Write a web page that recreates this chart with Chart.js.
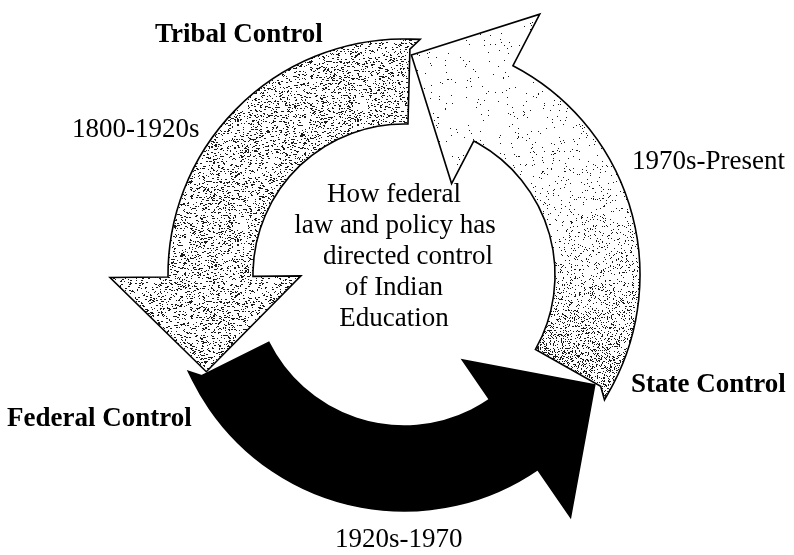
<!DOCTYPE html>
<html>
<head>
<meta charset="utf-8">
<script src="https://cdn.jsdelivr.net/npm/chart.js@4.4.1/dist/chart.umd.min.js"></script>
<style>
  html, body { margin: 0; padding: 0; background: #fff; }
  #wrap { width: 794px; height: 555px; position: relative; }
</style>
</head>
<body>
<div id="wrap"><canvas id="myChart"></canvas></div>
<script>
// arrows, clockwise from the top: State -> Tribal, Federal -> State, Tribal -> Federal
const periods = ["1970s-Present", "1920s-1970", "1800-1920s"];
const spanDegrees = [118, 124, 118];
const controls = ["State Control", "Federal Control", "Tribal Control"];
const centerLines = ["How federal", "law and policy has", "directed control", "of Indian", "Education"];

const headSpan = (26 * Math.PI) / 180;
const headLength = 95;
const flareIn = 48;
const flareOut = 58;
const barb = 10;

// deterministic grain for the stippled fills (texture only)
function grain(i) {
  const s = Math.sin(i * 12.9898 + 78.233) * 43758.5453;
  return s - Math.floor(s);
}

function makeSpeckle() {
  const c = document.createElement("canvas");
  c.width = 120;
  c.height = 120;
  const g = c.getContext("2d");
  g.fillStyle = "#fff";
  g.fillRect(0, 0, 120, 120);
  g.fillStyle = "#1a1a1a";
  for (let i = 0; i < 2000; i++) {
    const x = Math.floor(grain(i) * 120);
    const y = Math.floor(grain(i + 5000) * 120);
    g.fillRect(x, y, grain(i + 9000) < 0.4 ? 2 : 1, 1);
  }
  return g.createPattern(c, "repeat");
}

function pt(p, r, a) {
  return [p.x + r * Math.cos(a), p.y + r * Math.sin(a)];
}

function arrowPath(ctx, p) {
  const s = p.startAngle;
  const e = p.endAngle;
  const b = s + headSpan;
  const ri = p.innerRadius;
  const ro = p.outerRadius;
  ctx.beginPath();
  ctx.moveTo(...pt(p, ro, b));
  ctx.arc(p.x, p.y, ro, b, e, false);
  const o = pt(p, ro, e);
  ctx.lineTo(o[0] - Math.sin(e) * barb, o[1] + Math.cos(e) * barb);
  ctx.lineTo(...pt(p, ro - barb, e));
  ctx.lineTo(...pt(p, ri, e));
  ctx.arc(p.x, p.y, ri, e, b, true);
  ctx.lineTo(...pt(p, ri - flareIn, b));
  const m = pt(p, (ri - flareIn + ro + flareOut) / 2, b);
  ctx.lineTo(m[0] + Math.sin(b) * headLength, m[1] - Math.cos(b) * headLength);
  ctx.lineTo(...pt(p, ro + flareOut, b));
  ctx.closePath();
}

// sparse dots getting denser towards the tail
function fadeStipple(ctx, p) {
  const s = p.startAngle;
  const span = p.endAngle - s;
  const R = p.outerRadius + flareOut + 10;
  ctx.fillStyle = "#1a1a1a";
  for (let y = Math.floor(p.y - R); y < p.y + R; y++) {
    for (let x = Math.floor(p.x - R); x < p.x + R; x++) {
      let a = Math.atan2(y - p.y, x - p.x);
      while (a < s - 0.3) a += Math.PI * 2;
      const t = Math.min(Math.max((a - s) / span, 0), 1);
      const d = 0.012 + 0.26 * Math.pow(t, 3.5);
      if (grain(x * 1009 + y * 7) < d) ctx.fillRect(x, y, 1, 1);
    }
  }
}

const arrowPlugin = {
  id: "arrows",
  beforeDatasetDraw(chart, args) {
    const ctx = chart.ctx;
    args.meta.data.forEach((arc, i) => {
      const p = arc.getProps(["x", "y", "startAngle", "endAngle", "innerRadius", "outerRadius"], true);
      ctx.save();
      arrowPath(ctx, p);
      ctx.fillStyle = arc.options.backgroundColor;
      ctx.fill();
      if (i === 0) {
        ctx.save();
        ctx.clip();
        fadeStipple(ctx, p);
        ctx.restore();
        arrowPath(ctx, p);
      }
      ctx.lineWidth = 1.6;
      ctx.lineJoin = "miter";
      ctx.strokeStyle = "#000";
      ctx.stroke();
      ctx.restore();
    });
    return false;
  },
  afterDraw(chart) {
    const ctx = chart.ctx;
    ctx.save();
    ctx.fillStyle = "#000";
    ctx.textBaseline = "alphabetic";
    ctx.textAlign = "left";
    ctx.font = "bold 27px 'Liberation Serif', 'Times New Roman', serif";
    ctx.fillText(controls[2], 155, 42);
    ctx.fillText(controls[0], 631, 392);
    ctx.fillText(controls[1], 7, 426);
    ctx.font = "27px 'Liberation Serif', 'Times New Roman', serif";
    ctx.fillText(periods[2], 72, 137);
    ctx.fillText(periods[0], 632, 169);
    ctx.fillText(periods[1], 335, 547);
    ctx.textAlign = "center";
    const lineX = [394, 395, 408, 394, 394];
    centerLines.forEach((line, i) => {
      ctx.fillText(line, lineX[i], 202 + i * 31);
    });
    ctx.restore();
  },
};

const ctx = document.getElementById("myChart");

new Chart(ctx, {
  type: "doughnut",
  data: {
    labels: periods,
    datasets: [
      {
        label: "Control of Indian Education",
        data: spanDegrees,
        backgroundColor: ["#ffffff", "#000000", makeSpeckle()],
        borderWidth: 0,
        hoverOffset: 0,
        offset: 0,
      },
    ],
  },
  options: {
    responsive: true,
    maintainAspectRatio: false,
    animation: false,
    events: [],
    radius: 236,
    cutout: "64%",
    rotation: 1.5,
    layout: { padding: { left: 14, right: 0, top: 0, bottom: 5 } },
    plugins: {
      legend: { display: false },
      tooltip: { enabled: false },
      title: { display: false },
    },
  },
  plugins: [arrowPlugin],
});
</script>
</body>
</html>
